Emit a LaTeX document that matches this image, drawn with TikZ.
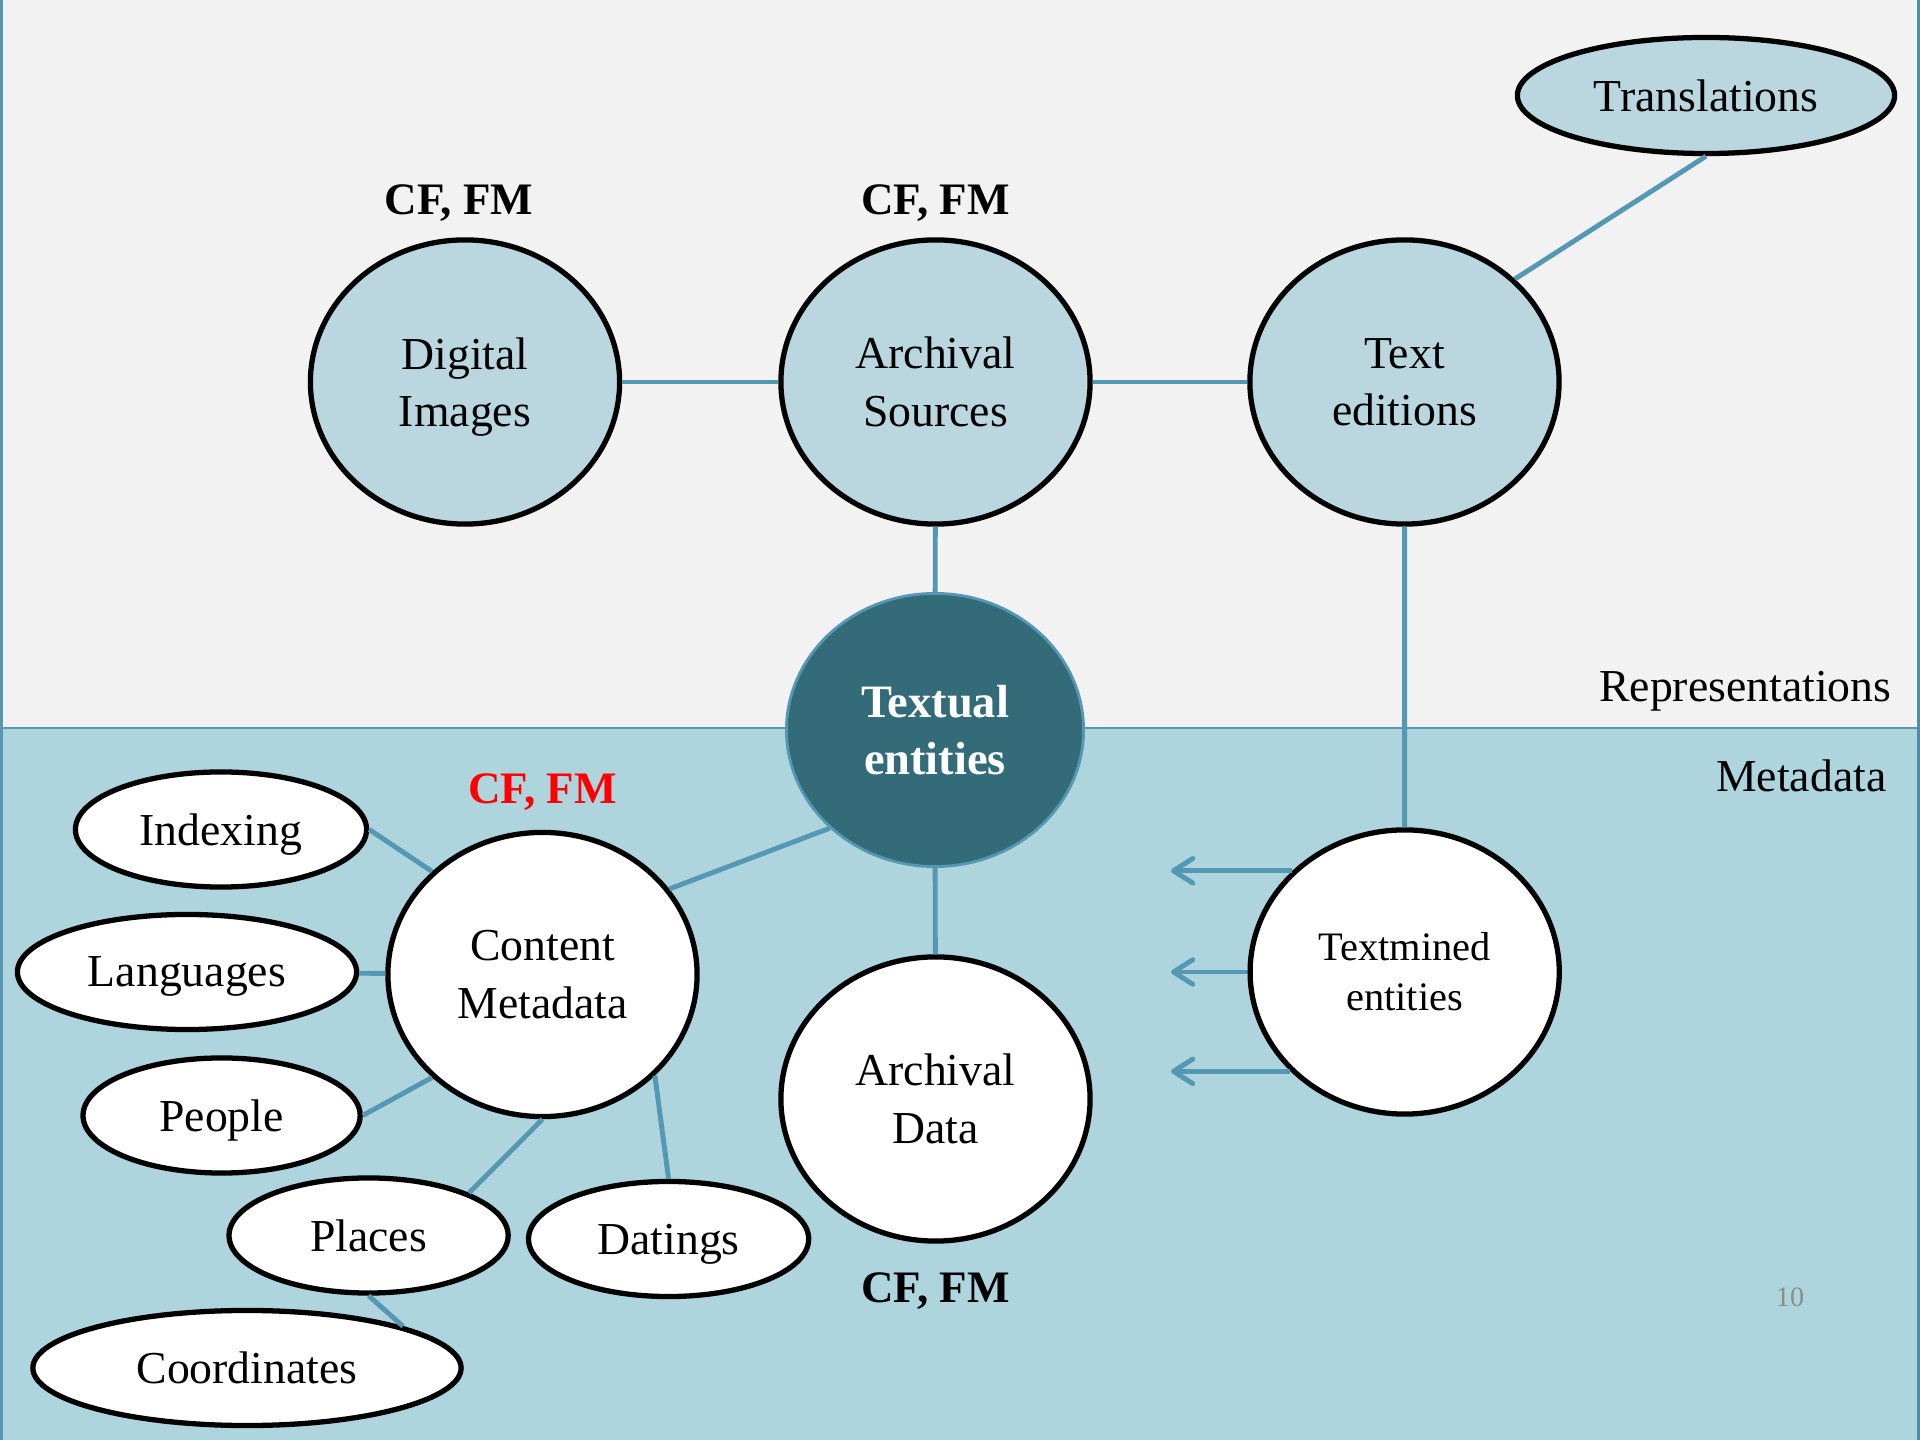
\documentclass[tikz,border=0pt]{standalone}
\usepackage{fontspec}
\setmainfont{Liberation Serif}
\usetikzlibrary{shapes.geometric,arrows.meta}
\definecolor{topbg}{HTML}{F2F2F2}
\definecolor{botbg}{HTML}{AED4DE}
\definecolor{repfill}{HTML}{BAD6DF}
\definecolor{corefill}{HTML}{336C78}
\definecolor{linkblue}{HTML}{5498B4}
\definecolor{rimblue}{HTML}{4F8EA6}
\definecolor{pagegray}{HTML}{8C8C8C}
\begin{document}
\begin{tikzpicture}[x=0.01cm,y=-0.01cm,
  txt/.style={font=\fontsize{13}{16.3}\selectfont},
  rep/.style={ellipse, draw=black, line width=1.5pt, fill=repfill, inner sep=0pt,
    minimum width=3.09cm, minimum height=2.84cm, align=center, txt},
  meta/.style={rep, fill=white},
  core/.style={ellipse, draw=linkblue, line width=0.8pt, fill=corefill, inner sep=0pt,
    minimum width=2.97cm, minimum height=2.73cm, align=center, text=white,
    font=\bfseries\fontsize{13.2}{16.2}\selectfont},
  leaf/.style={ellipse, draw=black, line width=1.5pt, fill=white, inner sep=0pt,
    minimum height=1.15cm, text depth=0pt, txt},
  lbl/.style={font=\bfseries\fontsize{12.8}{15}\selectfont, inner sep=0pt, anchor=base},
  side/.style={font=\fontsize{13}{15}\selectfont, inner sep=0pt, anchor=base east},
  conn/.style={draw=linkblue, line width=1.4pt},
  arr/.style={conn, -{Straight Barb[round, length=5.5pt, width=7pt]}}
]
\useasboundingbox (0,0) rectangle (1920,1440);
% background
\fill[topbg] (0,0) rectangle (1920,728);
\fill[botbg] (0,728) rectangle (1920,1440);
\draw[linkblue, line width=0.6pt] (0,728) -- (1920,728);
\draw[linkblue, line width=1pt] (1,0) -- (1,1440);
\draw[rimblue, line width=1pt] (1919,0) -- (1919,1440);

% nodes
\node[rep] (di) at (465,382) {Digital\\\smash{Images}};
\node[rep] (as) at (935.5,382) {Archival\\Sources};
\node[rep] (te) at (1404.5,382) {Text\\editions};
\node[rep, minimum width=3.77cm, minimum height=1.16cm, text depth=0pt] (tr) at (1706,95.5) {Translations};
\node[core] (tx) at (935,730) {Textual\\entities};
\node[meta] (cm) at (542.5,974.5) {Content\\Metadata};
\node[meta] (ad) at (935.5,1099) {Archival\\Data};
\node[meta, font=\fontsize{11.5}{14.2}\selectfont] (tm) at (1404.7,972) {Textmined\\entities};
\node[leaf, minimum width=2.91cm] (ix) at (221,829.5) {Indexing};
\node[leaf, minimum width=3.39cm] (lg) at (187,972) {Languages};
\node[leaf, minimum width=2.77cm] (pe) at (221.6,1115.5) {People};
\node[leaf, minimum width=2.79cm] (pl) at (368.6,1235.5) {Places};
\node[leaf, minimum width=2.80cm] (dt) at (668.6,1239) {Datings};
\node[leaf, minimum width=4.28cm] (co) at (247,1368) {Coordinates};

% labels
\node[lbl] (l1) at (459,215) {CF, FM};
\node[lbl] (l2) at (935.5,215) {CF, FM};
\node[lbl, text=red] (l3) at (542.5,804) {CF, FM};
\node[lbl] (l4) at (935.5,1303) {CF, FM};
\node[side] (rp) at (1892,702) {Representations};
\node[side] (md) at (1887,792) {Metadata};
\node[font=\fontsize{8}{9}\selectfont, text=pagegray, inner sep=0pt, anchor=base] (pg) at (1790,1307) {10};

% connectors
\draw[conn] (di) -- (as);
\draw[conn] (as) -- (te);
\draw[conn] (te.43) -- (tr.south);
\draw[conn] (as) -- (tx);
\draw[conn] (te) -- (tm);
\draw[conn] (tx.223) -- (cm.34);
\draw[conn] (tx) -- (ad);
\draw[conn] (cm.137) -- (ix.east);
\draw[conn] (lg) -- (cm);
\draw[conn] (pe.east) -- (cm.223);
\draw[conn] (pl.23) -- (cm.south);
\draw[conn] (dt.north) -- (cm.318);
\draw[conn] (pl.south) -- (co.15);

% arrows from textmined entities
\coordinate (tip) at (1171,0);
\draw[arr] (tm.138.5) -- (tm.138.5 -| tip);
\draw[arr] (tm.180) -- (tm.180 -| tip);
\draw[arr] (tm.221.5) -- (tm.221.5 -| tip);
\end{tikzpicture}
\end{document}
